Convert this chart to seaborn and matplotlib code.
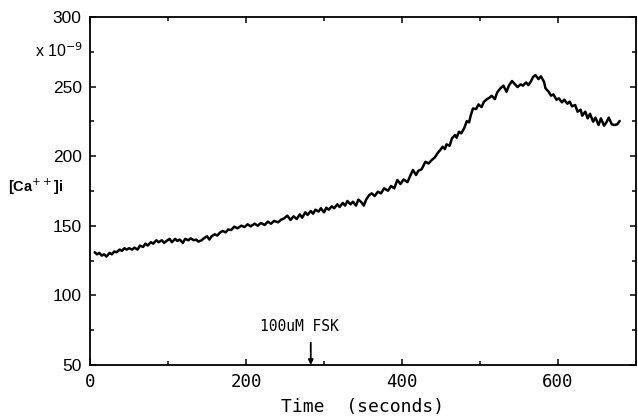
import matplotlib

matplotlib.use("Agg")
import matplotlib.pyplot as plt
import numpy as np
import pandas as pd
import seaborn as sns
from matplotlib.ticker import MultipleLocator

# values (time in s, [Ca++]i in units of 1e-9 M)
time_s = [
    6, 9, 12, 15, 18, 21, 25, 28, 31, 34, 38, 41, 44, 47, 50, 54, 57, 61, 64, 68,
    71, 74, 78, 81, 85, 88, 92, 95, 98, 102, 105, 109, 112, 115, 119, 122, 126, 129,
    133, 136, 139, 143, 146, 150, 153, 156, 160, 163, 167, 170, 174, 177,
    181, 185, 189, 194, 198, 202, 206, 211, 215, 219, 224, 228, 232, 236, 241, 245,
    249, 253, 257, 261, 265, 269, 272, 276, 279, 283, 286, 289, 293, 296, 300, 303,
    306, 310, 313, 317, 320, 324, 327, 330, 334, 337, 341, 344, 348, 351, 354, 358,
    361, 365, 369, 373, 377, 382, 386, 390, 394, 398, 402, 407, 411, 414, 418, 421,
    425, 430, 434, 438, 442,
    446, 449, 452, 455, 457, 461, 464, 468, 470, 473, 476, 480, 483, 486, 488, 491,
    495, 498, 502, 505, 509, 512, 515, 519, 522, 526,
    530, 534, 537, 541, 545, 548, 552, 555, 559, 562, 565, 568, 571, 575, 578, 582,
    584, 588, 591, 594, 598, 601, 605, 608, 612, 615, 618, 622, 625, 629, 631, 635,
    638, 641, 645, 648, 652, 655, 659, 662, 665, 669, 672, 676, 679,
]
calcium = [
    131, 129.5, 130.5, 128.6, 129.5, 127.9, 130.5, 129.5, 131.5, 131, 132.9, 132,
    133.9, 132.9, 133.9, 132.9, 134.3, 132.9, 135.8, 134.8, 137.2, 135.8, 138.2,
    137.2, 139.6, 138.2, 139.6, 137.7, 139.1, 140.6, 138.2, 140.6, 139.1, 140.1,
    137.7, 140.6, 139.6, 141, 139.6, 140.1, 138.6, 139.6, 141, 142.5, 140.1, 142.5,
    143.9, 143, 145.3, 146.3, 145.3, 147.3,
    147, 149.4, 148.2, 150.1, 149.1, 151.1, 149.6, 151.5, 150.1, 152, 150.6, 153,
    151.5, 153.5, 152.5, 154.4, 155.4, 157.3, 154.2, 156.8, 154.9, 158.2, 155.8,
    159.7, 157.8, 160.6, 158.7, 161.6, 160.2, 162.6, 159.7, 163, 161.6, 164, 162.6,
    165.4, 163.5, 166.4, 164.5, 167.8, 165.4, 167.3, 164.5, 168.8, 166.9, 164.5,
    168.8, 172.1,
    173.3, 171.4, 174.5, 173.3, 176.9, 175.2, 178.6, 176.9, 182.9, 180, 183.3,
    181.4, 186.5, 190.1, 186.5, 189.6, 190.5, 196, 194.8, 197.2, 199.1,
    202.5, 204.4, 206.8, 205.1, 208.5, 207.5, 212.8, 215.2, 213.3, 217.6, 216.4,
    220.5, 225.2, 224.3, 229.1, 234.3, 233.9, 237.2, 235.3, 239.1, 241, 242, 243.4,
    241, 245.8, 248.7,
    250.7, 246.3, 250.7, 254, 251.6, 249.7, 251.6, 250.7, 253, 251.1, 253.5, 256.9,
    258.3, 255.4, 257.4, 253.5, 248.7, 246.3, 243.5, 244.4, 240.6, 241.6, 238.7,
    240.6, 237.7, 239.2, 235.8, 236.8, 232, 233.4, 229.1, 232, 227.2, 230.5, 224.8,
    227.7, 222.4, 227.2, 221.9, 224.3, 227.7, 222.9, 222.4, 222.9, 225.3,
]

FSK_TIME = 283
FSK_LABEL = "100uM FSK"
X_TICKS = [0, 200, 400, 600]
Y_TICKS = [50, 100, 150, 200, 250, 300]

MONO = "DejaVu Sans Mono"
SANS = "Liberation Sans"


def main():
    sns.set_theme(style="ticks")
    plt.rcParams.update(
        {
            "axes.linewidth": 1.3,
            "xtick.direction": "in",
            "ytick.direction": "in",
            "xtick.top": True,
            "ytick.right": True,
            "text.color": "black",
            "xtick.labelcolor": "black",
            "ytick.labelcolor": "black",
            "axes.labelcolor": "black",
        }
    )

    df = pd.DataFrame({"time": time_s, "ca": calcium})

    fig = plt.figure(figsize=(6.38, 4.19), dpi=100)
    ax = fig.add_axes([0.1411, 0.1289, 0.8558, 0.8305])
    sns.lineplot(data=df, x="time", y="ca", color="black", linewidth=1.8,
                 estimator=None, ax=ax)

    ax.set_xlim(0, 700)
    ax.set_ylim(50, 300)
    ax.set_xticks(X_TICKS)
    ax.set_yticks(Y_TICKS)
    ax.xaxis.set_minor_locator(MultipleLocator(100))
    ax.yaxis.set_minor_locator(MultipleLocator(25))
    ax.tick_params(which="major", length=4, width=1.1, color="black", pad=6)
    ax.tick_params(which="minor", length=3, width=1.1, color="black")
    ax.set_xticklabels([str(t) for t in X_TICKS], family=MONO, fontsize=12.5)
    ax.set_yticklabels([str(v) for v in Y_TICKS], family=SANS, fontsize=12.5)
    for spine in ax.spines.values():
        spine.set_color("black")

    ax.set_xlabel("Time  (seconds)", family=MONO, fontsize=13, labelpad=5)
    ax.set_ylabel("")

    ax.annotate(
        "",
        xy=(FSK_TIME, 50),
        xytext=(FSK_TIME, 66),
        arrowprops=dict(arrowstyle="-|>", color="black", lw=1.3, mutation_scale=7,
                        shrinkA=0, shrinkB=0),
    )
    ax.text(FSK_TIME - 14, 78, FSK_LABEL, family=MONO, fontsize=10.5,
            ha="center", va="center")

    fig.text(0.130, 0.878, "x 10$^{-9}$", family=SANS, fontsize=11.5,
             ha="right", va="center")
    fig.text(0.012, 0.555, "[Ca$^{++}$]i", family=SANS, fontsize=10.5,
             fontweight="bold", ha="left", va="center")

    fig.savefig("out.png", dpi=100)
    plt.close(fig)


if __name__ == "__main__":
    main()
